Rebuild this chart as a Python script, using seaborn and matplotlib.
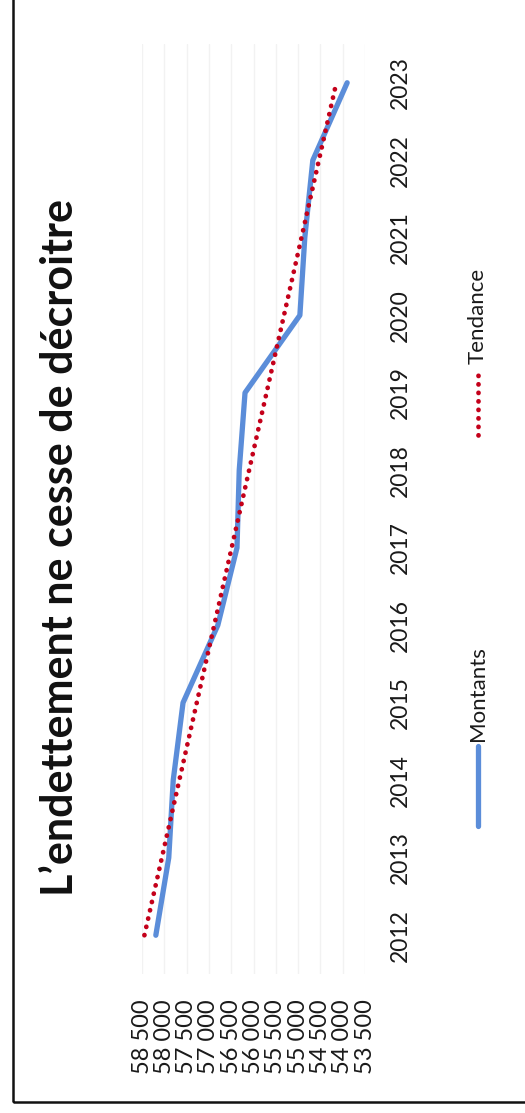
import numpy as np
import pandas as pd
import matplotlib
matplotlib.use("Agg")
import matplotlib.pyplot as plt
from matplotlib.lines import Line2D
from matplotlib.patches import Rectangle
import seaborn as sns

# Outstanding debt by year
years = [2012, 2013, 2014, 2015, 2016, 2017, 2018, 2019, 2020, 2021, 2022, 2023]
montants = [58190, 57900, 57800, 57580, 56800, 56370, 56320, 56190, 54960, 54850, 54670, 53900]
value_ticks = [58500, 58000, 57500, 57000, 56500, 56000, 55500, 55000, 54500, 54000, 53500]

title = "L\u2019endettement ne cesse de décroitre"
series_label = "Montants"
trend_label = "Tendance"

blue = "#5B8DD9"
red = "#C4001A"
dots = (0, (0.05, 1.75))

sns.set_style("white")
plt.rcParams["font.family"] = ["Lato", "DejaVu Sans"]

W, H = 525, 1113
fig = plt.figure(figsize=(W / 100, H / 100), dpi=100)
fig.patch.set_facecolor("white")


def fx(px):
    return px / W


def fy(py):
    return 1 - py / H


# The chart is laid out turned a quarter turn: values run across, years run upward
ax = fig.add_axes([fx(142), fy(974), (365 - 142) / W, (974 - 44) / H])

df = pd.DataFrame({"annee": years, "montant": montants})

# Linear trend of the amounts over the years
coef = np.polyfit(df["annee"], df["montant"], 1)
df["tendance"] = np.polyval(coef, df["annee"])

ax.plot(df["tendance"], df["annee"], color=red, lw=3.4,
        linestyle=dots, dash_capstyle="round", zorder=3)
sns.lineplot(data=df, x="montant", y="annee", orient="y", ax=ax,
             color=blue, lw=3.8, solid_capstyle="round", zorder=2)

ax.set_xlim(58500, 53500)
ax.set_ylim(2011.5, 2023.5)
ax.set_xlabel("")
ax.set_ylabel("")

ax.set_xticks(value_ticks)
ax.set_xticklabels([f"{v:,}".replace(",", " ") for v in value_ticks], rotation=90)
ax.yaxis.tick_right()
ax.set_yticks(years)
ax.set_yticklabels([str(y) for y in years], rotation=90, va="center")
ax.tick_params(axis="x", length=0, pad=18, labelsize=17, colors="#1a1a1a")
ax.tick_params(axis="y", length=0, pad=18, labelsize=16.5, colors="#1a1a1a")

ax.grid(axis="x", color="#f2f2f2", lw=1)
ax.grid(axis="y", visible=False)
for s in ax.spines.values():
    s.set_visible(False)

# Title
fig.text(fx(60), fy(547), title, rotation=90, ha="center", va="center",
         fontsize=31, fontweight="bold", color="#111111")

# Legend
fig.add_artist(Line2D([fx(478), fx(478)], [fy(826), fy(746)], transform=fig.transFigure,
                      color=blue, lw=3.8, solid_capstyle="round"))
fig.text(fx(478), fy(741), series_label, rotation=90, ha="center", va="bottom",
         fontsize=16, color="#1a1a1a")
fig.add_artist(Line2D([fx(478), fx(478)], [fy(435), fy(368)], transform=fig.transFigure,
                      color=red, lw=3.4, linestyle=dots, dash_capstyle="round"))
fig.text(fx(478), fy(364), trend_label, rotation=90, ha="center", va="bottom",
         fontsize=16, color="#1a1a1a")

# Outer frame of the chart
fig.add_artist(Rectangle((fx(13), fy(1102)), 2, 2, transform=fig.transFigure,
                         fill=False, edgecolor="#111111", lw=1.8, clip_on=False))

fig.savefig("out.png", dpi=100, facecolor="white")
